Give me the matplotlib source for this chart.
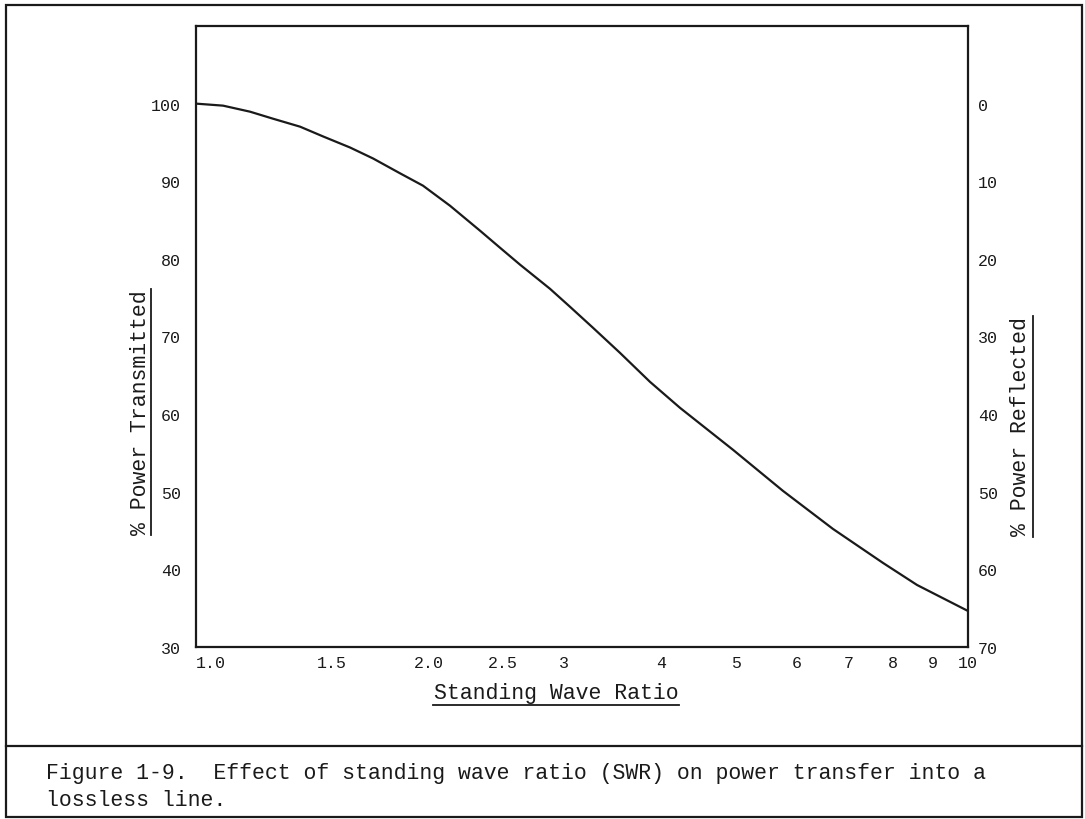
import matplotlib
matplotlib.use("Agg")
import matplotlib.pyplot as plt
from matplotlib.lines import Line2D
from matplotlib.patches import Rectangle
from matplotlib.ticker import NullLocator

# ---- data ----
swr = [1.0, 1.084, 1.175, 1.258, 1.364, 1.461, 1.583, 1.696, 1.838, 1.968,
       2.133, 2.333, 2.476, 2.629, 2.874, 3.051, 3.268, 3.541, 3.873, 4.236,
       4.962, 5.759, 6.685, 7.761, 8.59, 10.0]
pct_transmitted = [100.0, 99.74, 98.96, 98.06, 97.03, 95.77, 94.35, 92.93,
                   91.02, 89.43, 86.85, 83.63, 81.44, 79.25, 76.15, 73.83,
                   71.12, 67.90, 64.16, 60.81, 55.40, 50.11, 45.21, 40.83,
                   37.99, 34.64]

x_ticks = [1.0, 1.5, 2.0, 2.5, 3, 4, 5, 6, 7, 8, 9, 10]
x_tick_labels = ["1.0", "1.5", "2.0", "2.5", "3", "4", "5", "6", "7", "8", "9", "10"]
left_ticks = [30, 40, 50, 60, 70, 80, 90, 100]
right_ticks = [0, 10, 20, 30, 40, 50, 60, 70]

x_label = "Standing Wave Ratio"
left_label = "% Power Transmitted"
right_label = "% Power Reflected"
caption_1 = "Figure 1-9.  Effect of standing wave ratio (SWR) on power transfer into a"
caption_2 = "lossless line."

FONT = "Liberation Mono"
INK = "#1a1a1a"
W, H = 1085, 820

fig = plt.figure(figsize=(W / 100, H / 100), dpi=100)
fig.patch.set_facecolor("white")


def fx(px):
    return px / W


def fy(py):
    return 1 - py / H


ax = fig.add_axes([fx(196), fy(648), fx(968) - fx(196), fy(27) - fy(648)])
ax.plot(swr, pct_transmitted, color=INK, lw=1.6, solid_capstyle="round",
        solid_joinstyle="round")
ax.set_xscale("log")
ax.set_xlim(1, 10)
ax.set_ylim(30, 110)
ax.xaxis.set_minor_locator(NullLocator())
ax.set_xticks(x_ticks)
ax.set_xticklabels(x_tick_labels)
ax.set_yticks(left_ticks)
ax.tick_params(axis="y", length=0, pad=11, labelsize=12, labelcolor=INK)
ax.tick_params(axis="x", length=0, pad=6, labelsize=12, labelcolor=INK)
for lab in ax.get_xticklabels() + ax.get_yticklabels():
    lab.set_fontfamily(FONT)
ax.get_xticklabels()[0].set_horizontalalignment("left")
for s in ax.spines.values():
    s.set_linewidth(1.6)
    s.set_color(INK)

ax2 = ax.twinx()
ax2.set_ylim(70, -10)
ax2.set_yticks(right_ticks)
ax2.tick_params(axis="y", length=0, pad=7, labelsize=12, labelcolor=INK)
for lab in ax2.get_yticklabels():
    lab.set_fontfamily(FONT)
for s in ax2.spines.values():
    s.set_visible(False)

# axis titles with underlines
fig.text(fx(556), fy(694), x_label, ha="center", va="center",
         fontsize=15.5, family=FONT, color=INK)
fig.add_artist(Line2D([fx(433), fx(679)], [fy(706), fy(706)], color=INK, lw=1.3))

fig.text(fx(140), fy(413), left_label, ha="center", va="center", rotation=90,
         fontsize=15.5, family=FONT, color=INK)
fig.add_artist(Line2D([fx(151), fx(151)], [fy(290), fy(536)], color=INK, lw=1.3))

fig.text(fx(1021), fy(427), right_label, ha="center", va="center", rotation=90,
         fontsize=15.5, family=FONT, color=INK)
fig.add_artist(Line2D([fx(1033), fx(1033)], [fy(317), fy(538)], color=INK, lw=1.3))

# caption
fig.text(fx(46), fy(774), caption_1, ha="left", va="center",
         fontsize=15.5, family=FONT, color=INK)
fig.text(fx(46), fy(801), caption_2, ha="left", va="center",
         fontsize=15.5, family=FONT, color=INK)

# outer frame and separator
fig.add_artist(Rectangle((fx(6), fy(818)), fx(1082) - fx(6), fy(6) - fy(818),
                         fill=False, edgecolor=INK, lw=1.6))
fig.add_artist(Line2D([fx(6), fx(1082)], [fy(747), fy(747)], color=INK, lw=1.6))

fig.savefig("out.png", dpi=100, facecolor="white")
